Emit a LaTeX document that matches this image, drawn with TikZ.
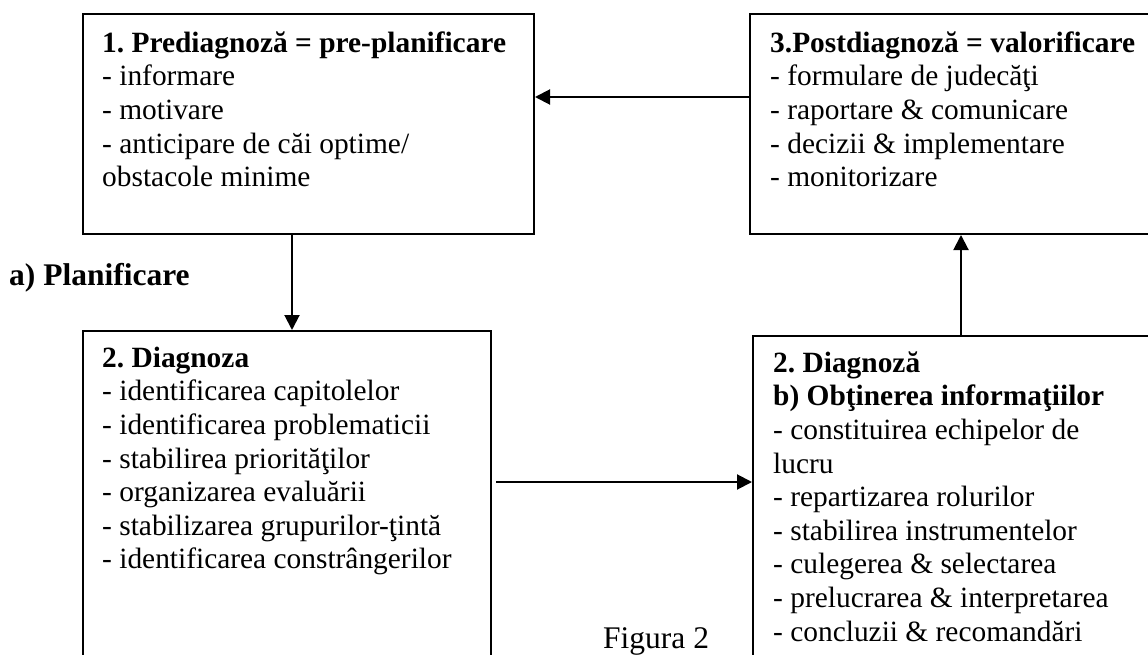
\documentclass[tikz,border=0pt]{standalone}
\usepackage{fontspec}
\setmainfont{Liberation Serif}
\usetikzlibrary{arrows.meta}
\frenchspacing
\tikzset{
  box/.style={draw,line width=2pt,anchor=north west,inner sep=0pt},
  txt/.style={anchor=north west,align=left,inner sep=0pt,font=\fontsize{29.4}{33.6}\selectfont},
  arr/.style={-{Triangle[length=15pt,width=15pt]},line width=2pt}
}
\begin{document}
\begin{tikzpicture}[x=1pt,y=-1pt]
  \clip (0,0) rectangle (1148,655);
  \node[box,minimum width=451pt,minimum height=220pt] (pre) at (82,13) {};
  \node[box,minimum width=420pt,minimum height=220pt] (post) at (749,13) {};
  \node[box,minimum width=408pt,minimum height=340pt] (diagL) at (82,330) {};
  \node[box,minimum width=420pt,minimum height=335pt] (diagR) at (752,335) {};
  \node[txt] (pretxt) at (102,28.5) {\strut\textbf{1. Prediagnoză = pre-planificare}\\
    - informare\\ - motivare\\ - anticipare de căi optime/\\ obstacole minime};
  \node[txt] (posttxt) at (770,28.5) {\strut\textbf{3.Postdiagnoză = valorificare}\\
    - formulare de judecăţi\\ - raportare \& comunicare\\ - decizii \& implementare\\ - monitorizare};
  \node[txt] (diagLtxt) at (102,343.5) {\strut\textbf{2. Diagnoza}\\
    - identificarea capitolelor\\ - identificarea problematicii\\ - stabilirea priorităţilor\\
    - organizarea evaluării\\ - stabilizarea grupurilor-ţintă\\ - identificarea constrângerilor};
  \node[txt] (diagRtxt) at (773,348.5) {\strut\textbf{2. Diagnoză}\\ \textbf{b) Obţinerea informaţiilor}\\
    - constituirea echipelor de\\ lucru\\ - repartizarea rolurilor\\ - stabilirea instrumentelor\\
    - culegerea \& selectarea\\ - prelucrarea \& interpretarea\\ - concluzii \& recomandări};
  \node[txt,anchor=base west,font=\fontsize{31.5}{36}\selectfont\bfseries] (plan) at (9,285) {a) Planificare};
  \node[txt,anchor=base west,font=\fontsize{31.5}{36}\selectfont] (fig) at (603,648) {Figura 2};
  \draw[arr] ([yshift=27pt]post.west) -- ([yshift=27pt]pre.east);
  \draw[arr] ([xshift=-16.5pt]pre.south) -- ([xshift=-16.5pt]pre.south |- diagL.north);
  \draw[arr,shorten <=4pt] ([yshift=19pt]diagL.east) -- ([yshift=19pt]diagL.east -| diagR.west);
  \draw[arr] ([xshift=-2pt]diagR.north) -- ([xshift=-2pt]diagR.north |- post.south);
\end{tikzpicture}
\end{document}
